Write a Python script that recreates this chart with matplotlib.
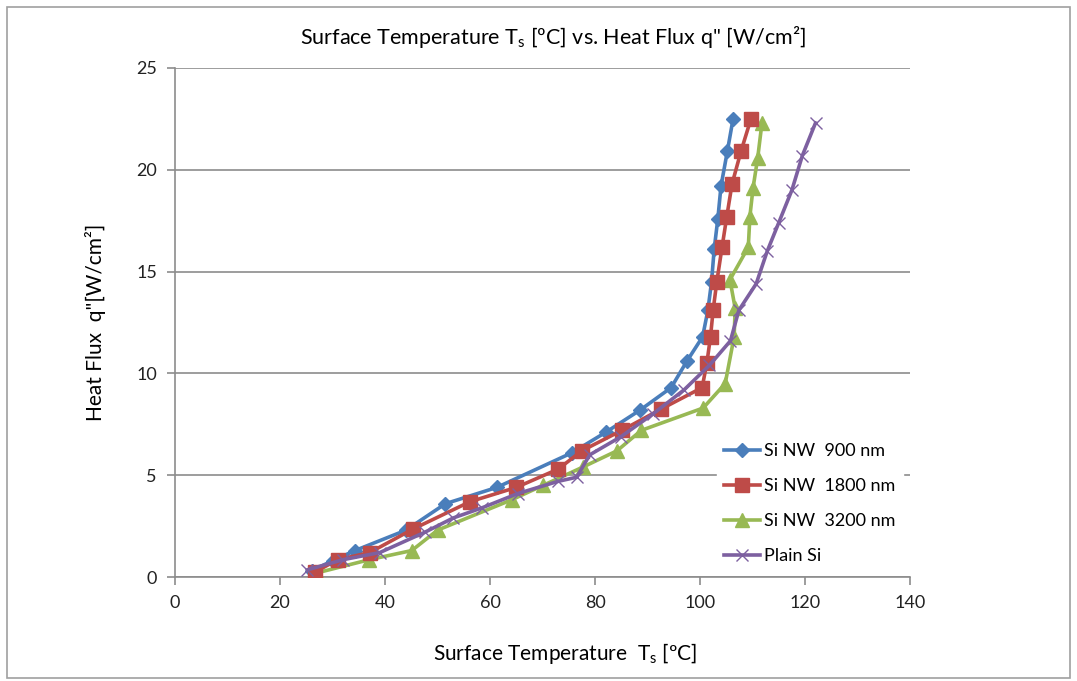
import numpy as np
import matplotlib
matplotlib.use('Agg')
import matplotlib.pyplot as plt
from matplotlib.patches import Rectangle

plt.rcParams['font.family'] = ['Lato', 'DejaVu Sans']
plt.rcParams['mathtext.default'] = 'regular'

# data
t_900 = [26, 30, 34.3, 44, 51.5, 61.3, 75.6, 82, 88.6, 94.5, 97.5, 100.5, 101.5, 102.2, 102.7, 103.4, 104, 105.2, 106.3]
q_900 = [0.3, 0.8, 1.3, 2.3, 3.6, 4.4, 6.1, 7.1, 8.2, 9.3, 10.6, 11.8, 13.1, 14.5, 16.1, 17.6, 19.2, 20.9, 22.5]

t_1800 = [26.7, 31, 37.1, 45.3, 56.2, 65, 73, 77.5, 85.1, 92.6, 100.4, 101.3, 102, 102.5, 103.2, 104.2, 105.1, 106.1, 107.8, 109.7]
q_1800 = [0.25, 0.85, 1.2, 2.35, 3.7, 4.4, 5.3, 6.2, 7.2, 8.25, 9.3, 10.5, 11.8, 13.1, 14.5, 16.2, 17.7, 19.3, 20.9, 22.5]

t_3200 = [27, 37, 45.1, 50, 64.2, 70.1, 77.7, 84.2, 88.8, 100.6, 104.8, 106.5, 106.7, 105.7, 109.2, 109.5, 110.1, 111, 111.8]
q_3200 = [0.2, 0.85, 1.3, 2.3, 3.8, 4.5, 5.4, 6.2, 7.2, 8.3, 9.5, 11.8, 13.2, 14.6, 16.2, 17.7, 19.1, 20.6, 22.3]

t_plain = [25.2, 32, 39, 47.6, 53, 58.5, 65.3, 73, 76.5, 79, 85, 91, 97, 101.8, 105.8, 107.4, 110.7, 112.8, 115, 117.5, 119.5, 122]
q_plain = [0.35, 0.85, 1.2, 2.2, 2.9, 3.4, 4.1, 4.7, 4.9, 6.0, 6.9, 8.0, 9.2, 10.4, 11.6, 13.1, 14.4, 16.0, 17.4, 19.0, 20.7, 22.3]

x_ticks = [0, 20, 40, 60, 80, 100, 120, 140]
y_ticks = [0, 5, 10, 15, 20, 25]

fig = plt.figure(figsize=(10.77, 6.81), dpi=100)
ax = fig.add_axes([175 / 1077, 1 - 577 / 681, 735 / 1077, 509 / 681])

fig.patches.append(Rectangle((7 / 1077, 3 / 681), 1063 / 1077, 671 / 681, transform=fig.transFigure,
                             fill=False, edgecolor='#a0a0a0', lw=1.2))

ax.plot(t_900, q_900, color='#4a7ebb', lw=2.6, marker='D', ms=7, label='Si NW  900 nm', zorder=3)
ax.plot(t_1800, q_1800, color='#be4b48', lw=2.6, marker='s', ms=9.5, label='Si NW  1800 nm', zorder=4)
ax.plot(t_3200, q_3200, color='#98b954', lw=2.6, marker='^', ms=9.5, label='Si NW  3200 nm', zorder=3)
ax.plot(t_plain, q_plain, color='#7d60a0', lw=2.6, marker='x', ms=9, mew=1.0, label='Plain Si', zorder=5)

ax.set_xlim(0, 140)
ax.set_ylim(0, 25)
ax.set_xticks(x_ticks)
ax.set_yticks(y_ticks)
ax.yaxis.grid(True, color='#8c8c8c', lw=1.2)
ax.set_axisbelow(True)
for s in ['top', 'right']:
    ax.spines[s].set_visible(False)
for s in ['left', 'bottom']:
    ax.spines[s].set_color('#8c8c8c')
    ax.spines[s].set_linewidth(1.2)
ax.tick_params(colors='#8c8c8c', length=6, width=1.2, labelsize=13, labelcolor='#222222', pad=7)

ax.set_xlabel('Surface Temperature  T$_s$ [ºC]', fontsize=15)
ax.xaxis.set_label_coords(0.531, -0.126)
ax.set_ylabel('Heat Flux  q"[W/cm²]', fontsize=15, labelpad=22)
fig.text(0.513, 0.945, 'Surface Temperature T$_s$ [ºC] vs. Heat Flux q" [W/cm²]', ha='center', va='center', fontsize=15.5)

leg = ax.legend(loc='lower left', bbox_to_anchor=(0.73, 0.0), frameon=True, fontsize=13,
                handlelength=2.0, labelspacing=1.05, borderaxespad=0.3, handletextpad=0.2)
leg.get_frame().set_edgecolor('white')
leg.get_frame().set_facecolor('white')
leg.get_frame().set_alpha(1)

fig.savefig('out.png', dpi=100)
